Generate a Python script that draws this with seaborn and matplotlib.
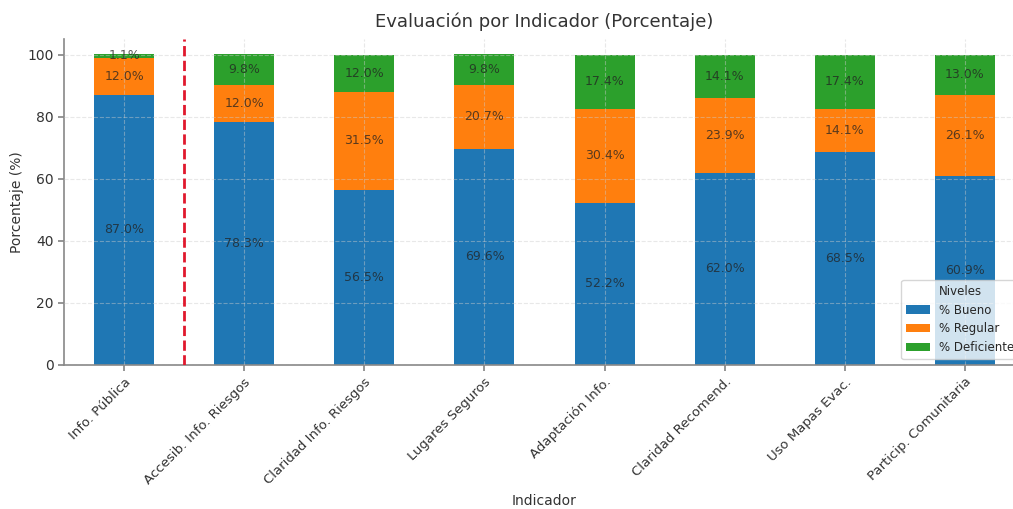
import numpy as np
import pandas as pd
import matplotlib
matplotlib.use("Agg")
import matplotlib.pyplot as plt
import seaborn as sns

# Datos
indicadores = ["Info. Pública", "Accesib. Info. Riesgos", "Claridad Info. Riesgos",
               "Lugares Seguros", "Adaptación Info.", "Claridad Recomend.",
               "Uso Mapas Evac.", "Particip. Comunitaria"]
bueno = [87.0, 78.3, 56.5, 69.6, 52.2, 62.0, 68.5, 60.9]
regular = [12.0, 12.0, 31.5, 20.7, 30.4, 23.9, 14.1, 26.1]
deficiente = [1.1, 9.8, 12.0, 9.8, 17.4, 14.1, 17.4, 13.0]
niveles = ["% Bueno", "% Regular", "% Deficiente"]
colores = ["#1f77b4", "#ff7f0e", "#2ca02c"]

sns.set_theme(style="white")
plt.rcParams["font.family"] = ["DejaVu Sans"]

df = pd.DataFrame({"Indicador": indicadores, "% Bueno": bueno,
                   "% Regular": regular, "% Deficiente": deficiente})
df["c1"] = df["% Bueno"]
df["c2"] = df["c1"] + df["% Regular"]
df["c3"] = df["c2"] + df["% Deficiente"]

fig = plt.figure(figsize=(10.13, 5.09), dpi=100)
ax = fig.add_axes([64 / 1013, (509 - 365) / 509, (1025 - 64) / 1013, (365 - 39) / 509])

# Barras apiladas (se dibujan los acumulados de mayor a menor)
for col, color, nivel in zip(["c3", "c2", "c1"], colores[::-1], niveles[::-1]):
    sns.barplot(data=df, x="Indicador", y=col, color=color, width=0.5,
                saturation=1, ax=ax, label=nivel, linewidth=0, edgecolor="none")

# Etiquetas de porcentaje
for i in range(len(indicadores)):
    base = 0
    for val in [bueno[i], regular[i], deficiente[i]]:
        ax.text(i, base + val / 2, f"{val:.1f}%", ha="center", va="center",
                fontsize=9, color="#222222", alpha=0.75, zorder=5)
        base += val

ax.axvline(0.5, color="#e0182d", linestyle="--", linewidth=2, zorder=4)

ax.set_xlim(-0.5, 7.5)
ax.set_ylim(0, 105)
ax.set_yticks([0, 20, 40, 60, 80, 100])
ax.set_axisbelow(False)
ax.grid(True, color="#cccccc", linestyle="--", linewidth=0.8, alpha=0.45)

for s in ["top", "right"]:
    ax.spines[s].set_visible(False)
for s in ["left", "bottom"]:
    ax.spines[s].set_color("#888888")
    ax.spines[s].set_linewidth(1.2)
ax.tick_params(axis="both", which="both", length=4, color="#888888", labelsize=10,
               labelcolor="#333333", left=True, bottom=True)
ax.tick_params(axis="x", labelsize=9.5)
plt.setp(ax.get_xticklabels(), rotation=45, ha="right", rotation_mode="anchor")

ax.set_title("Evaluación por Indicador (Porcentaje)", fontsize=13, color="#333333", pad=9)
ax.set_xlabel("Indicador", fontsize=10, color="#333333", labelpad=5)
ax.set_ylabel("Porcentaje (%)", fontsize=10, color="#333333", labelpad=2)

handles, labels = ax.get_legend_handles_labels()
orden = [labels.index(n) for n in niveles]
leg = ax.legend([handles[k] for k in orden], niveles, title="Niveles", loc="lower right",
                fontsize=8.5, title_fontsize=8.5, framealpha=0.8)

fig.savefig("out.png", dpi=100)
